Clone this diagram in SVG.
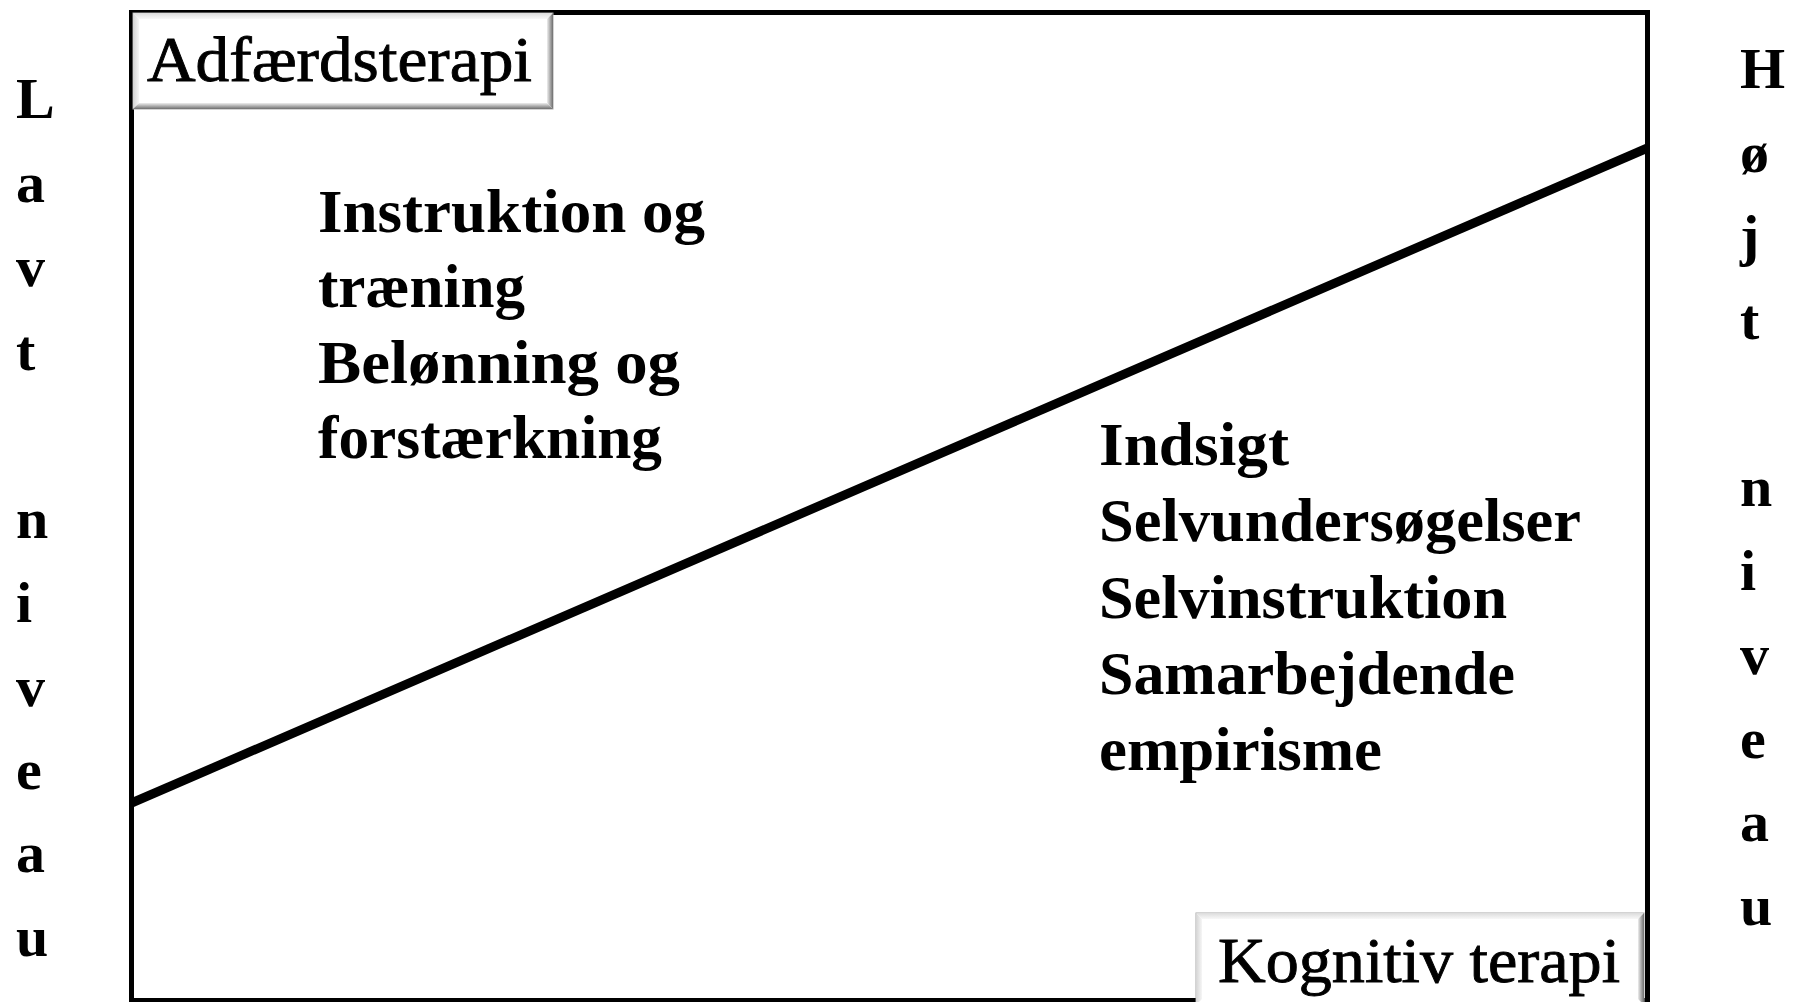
<svg xmlns="http://www.w3.org/2000/svg" width="1796" height="1002" viewBox="0 0 1796 1002">
<style>
.frame{fill:none;stroke:#000;stroke-width:5}
.diag{stroke:#000;stroke-width:9;stroke-linecap:butt}
.body{font-family:"Liberation Serif","Times New Roman",serif;font-weight:bold;font-size:62px;fill:#000}
.lbl{font-family:"Liberation Serif","Times New Roman",serif;font-weight:normal;font-size:64px;fill:#000;stroke:#000;stroke-width:0.9}
.side{font-family:"Liberation Serif","Times New Roman",serif;font-weight:bold;font-size:58px;fill:#000}
</style>
<defs>
<linearGradient id="gTop" x1="0" y1="0" x2="0" y2="1"><stop offset="0" stop-color="#dcdcdc"/><stop offset="1" stop-color="#f8f8f8"/></linearGradient>
<linearGradient id="gLeft" x1="0" y1="0" x2="1" y2="0"><stop offset="0" stop-color="#d4d4d4"/><stop offset="1" stop-color="#f6f6f6"/></linearGradient>
<linearGradient id="gRight" x1="0" y1="0" x2="1" y2="0"><stop offset="0" stop-color="#eeeeee"/><stop offset="1" stop-color="#6e6e6e"/></linearGradient>
<linearGradient id="gBottom" x1="0" y1="0" x2="0" y2="1"><stop offset="0" stop-color="#eeeeee"/><stop offset="1" stop-color="#6e6e6e"/></linearGradient>
</defs>
<rect width="1796" height="1002" fill="#fff"/>

<g id="frame">
<rect class="frame" x="131.5" y="12.5" width="1516" height="988"/>
</g>

<g id="connectors">
<line class="diag" x1="131.5" y1="803" x2="1647.5" y2="148"/>
</g>

<g id="box-adfaerdsterapi">
<rect x="133" y="13" width="420" height="96" fill="#fff" stroke="#a8a8a8" stroke-width="1"/>
<polygon points="133,13 553,13 547,19 139,19" fill="url(#gTop)"/>
<polygon points="133,13 139,19 139,103 133,109" fill="url(#gLeft)"/>
<polygon points="553,13 553,109 547,103 547,19" fill="url(#gRight)"/>
<polygon points="133,109 553,109 547,103 139,103" fill="url(#gBottom)"/>
<text class="lbl" x="147" y="81" textLength="385" lengthAdjust="spacingAndGlyphs">Adfærdsterapi</text>
</g>

<g id="box-kognitiv">
<rect x="1196" y="913" width="448" height="92" fill="#fff" stroke="#a8a8a8" stroke-width="1"/>
<polygon points="1196,913 1644,913 1638,919 1202,919" fill="url(#gTop)"/>
<polygon points="1196,913 1202,919 1202,999 1196,1005" fill="url(#gLeft)"/>
<polygon points="1644,913 1644,1005 1638,999 1638,919" fill="url(#gRight)"/>
<text class="lbl" x="1218" y="982" textLength="402" lengthAdjust="spacingAndGlyphs">Kognitiv terapi</text>
</g>

<g id="text-adfaerd">
<text class="body" x="318" y="232" textLength="387" lengthAdjust="spacingAndGlyphs">Instruktion og</text>
<text class="body" x="318" y="307" textLength="207" lengthAdjust="spacingAndGlyphs">træning</text>
<text class="body" x="318" y="383" textLength="362" lengthAdjust="spacingAndGlyphs">Belønning og</text>
<text class="body" x="318" y="458" textLength="344" lengthAdjust="spacingAndGlyphs">forstærkning</text>
</g>

<g id="text-kognitiv">
<text class="body" x="1099" y="465" textLength="190" lengthAdjust="spacingAndGlyphs">Indsigt</text>
<text class="body" x="1099" y="541" textLength="482" lengthAdjust="spacingAndGlyphs">Selvundersøgelser</text>
<text class="body" x="1099" y="618" textLength="408" lengthAdjust="spacingAndGlyphs">Selvinstruktion</text>
<text class="body" x="1099" y="694" textLength="416" lengthAdjust="spacingAndGlyphs">Samarbejdende</text>
<text class="body" x="1099" y="770" textLength="283" lengthAdjust="spacingAndGlyphs">empirisme</text>
</g>

<g id="axis-left">
<text class="side" x="16" y="118">L</text>
<text class="side" x="16" y="202">a</text>
<text class="side" x="16" y="286">v</text>
<text class="side" x="16" y="370">t</text>
<text class="side" x="16" y="538">n</text>
<text class="side" x="16" y="622">i</text>
<text class="side" x="16" y="706">v</text>
<text class="side" x="16" y="789">e</text>
<text class="side" x="16" y="872">a</text>
<text class="side" x="16" y="956">u</text>
</g>

<g id="axis-right">
<text class="side" x="1740" y="88">H</text>
<text class="side" x="1740" y="172">ø</text>
<text class="side" x="1740" y="255">j</text>
<text class="side" x="1740" y="339">t</text>
<text class="side" x="1740" y="506">n</text>
<text class="side" x="1740" y="590">i</text>
<text class="side" x="1740" y="674">v</text>
<text class="side" x="1740" y="758">e</text>
<text class="side" x="1740" y="841">a</text>
<text class="side" x="1740" y="925">u</text>
</g>
</svg>
